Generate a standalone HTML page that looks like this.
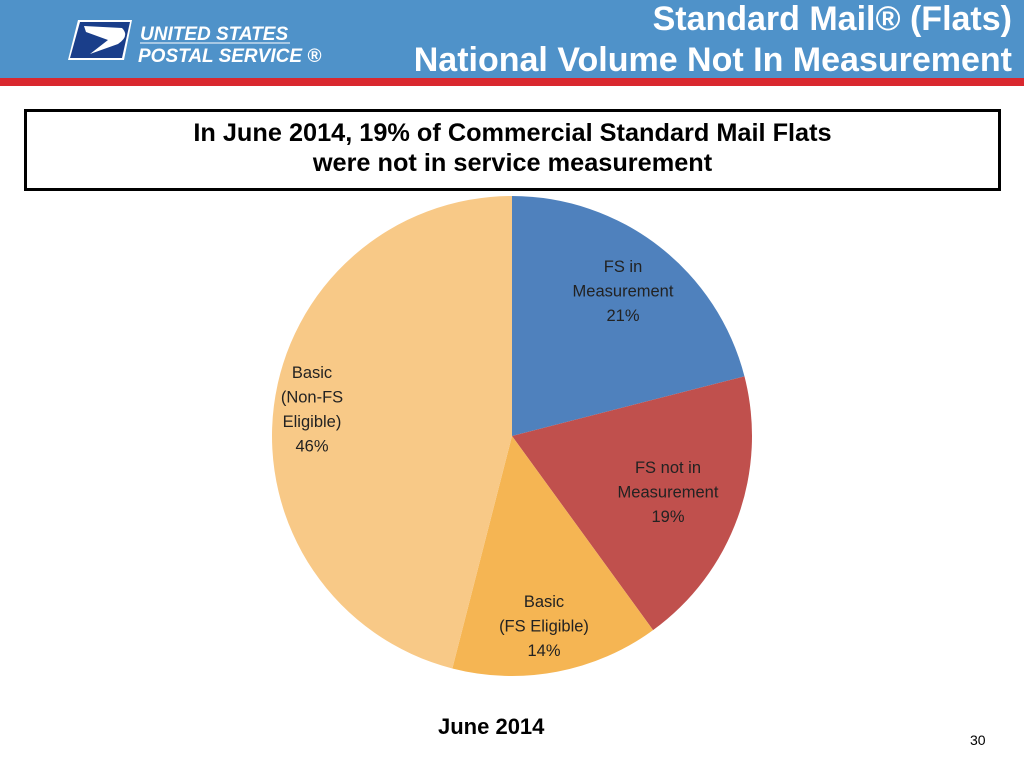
<!DOCTYPE html>
<html><head><meta charset="utf-8"><style>
body{margin:0;width:1024px;height:768px;background:#fff;position:relative;overflow:hidden;font-family:"Liberation Sans",sans-serif}
.hdr{position:absolute;left:0;top:0;width:1024px;height:78px;background:#4f92c9}
.red{position:absolute;left:0;top:78px;width:1024px;height:8px;background:#d9282f}
.t{position:absolute;right:12px;color:#fff;font-weight:bold;font-size:34px;line-height:40px;white-space:nowrap}
.box{position:absolute;left:24px;top:109px;width:971px;height:70px;border:3px solid #000;text-align:center;font-weight:bold;font-size:25.3px;line-height:30px;padding-top:6px;box-sizing:content-box}
</style></head><body>
<div class="hdr"></div>
<div class="red"></div>
<svg style="position:absolute;left:0;top:0" width="360" height="78">
<polygon points="78,20 132,20 124,60 68,60" fill="#fff"/>
<polygon points="80,22 130,22 122,58 70,58" fill="#1a3e8a"/>
<path d="M84,26 L122,28 Q130,36 118,44 L90,54 L108,40 L86,32 Z" fill="#fff"/>
<text x="140" y="40" font-family="Liberation Sans" font-weight="bold" font-style="italic" font-size="19" fill="#fff">UNITED STATES</text>
<line x1="140" y1="43" x2="290" y2="43" stroke="#fff" stroke-width="1"/>
<text x="138" y="62" font-family="Liberation Sans" font-weight="bold" font-style="italic" font-size="19" fill="#fff">POSTAL SERVICE ®</text>
</svg>
<div class="t" style="top:-1px">Standard Mail® (Flats)</div>
<div class="t" style="top:40px">National Volume Not In Measurement</div>
<div class="box">In June 2014, 19% of Commercial Standard Mail Flats<br>were not in service measurement</div>
<svg id="pie" style="position:absolute;left:0;top:0" width="1024" height="768"></svg>
<div style="position:absolute;left:438px;top:714px;font-weight:bold;font-size:22px">June 2014</div>
<div style="position:absolute;left:970px;top:732px;font-size:14px">30</div>
<script>
const categories=["FS in\nMeasurement","FS not in\nMeasurement","Basic\n(FS Eligible)","Basic\n(Non-FS\nEligible)"];
const values=[21,19,14,46];
const colors=["#4f81bd","#c0504d","#f5b553","#f8c987"];
const labelPos=[[623,266],[668,467],[544,601],[312,372]];
const svg=document.getElementById('pie');
const NS="http://www.w3.org/2000/svg";
const cx=512,cy=436,r=240;
const total=values.reduce((a,b)=>a+b,0);
let a0=0;
function pt(a){return [cx+r*Math.sin(a),cy-r*Math.cos(a)];}
values.forEach((v,i)=>{
  const a1=a0+v/total*2*Math.PI;
  const p0=pt(a0),p1=pt(a1);
  const p=document.createElementNS(NS,'path');
  p.setAttribute('d',`M${cx},${cy}L${p0[0]},${p0[1]}A${r},${r} 0 ${a1-a0>Math.PI?1:0} 1 ${p1[0]},${p1[1]}Z`);
  p.setAttribute('fill',colors[i]);
  
  
  svg.appendChild(p);
  const t=document.createElementNS(NS,'text');
  t.setAttribute('text-anchor','middle');
  t.setAttribute('font-family','Liberation Sans, sans-serif');
  t.setAttribute('font-size','16.5');
  t.setAttribute('fill','#222');
  
  
  const lines=categories[i].split('\n').concat([v+'%']);
  lines.forEach((s,j)=>{const ts=document.createElementNS(NS,'tspan');ts.setAttribute('x',labelPos[i][0]);ts.setAttribute('y',labelPos[i][1]+6+j*24.5);ts.textContent=s;t.appendChild(ts);});
  svg.appendChild(t);
  a0=a1;
});
</script>
</body></html>
